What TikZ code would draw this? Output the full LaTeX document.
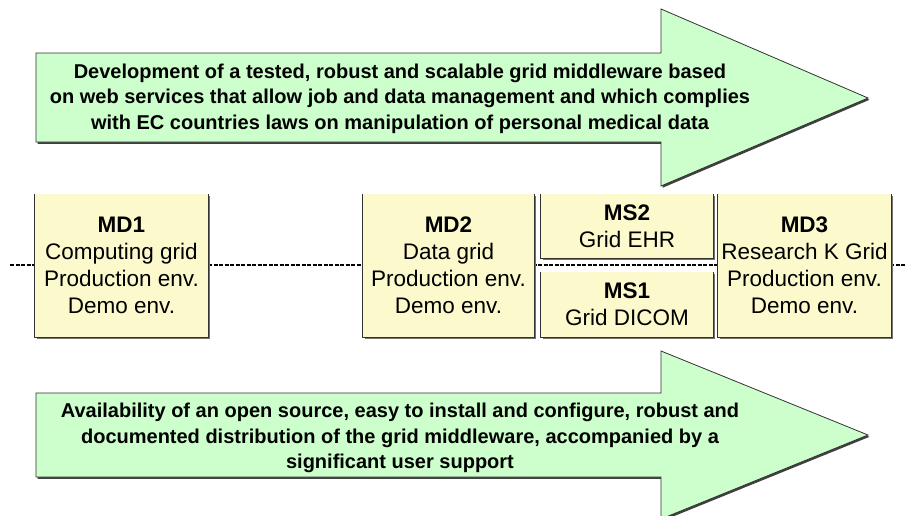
\documentclass[tikz,border=0pt]{standalone}
\usepackage{fontspec}
\setmainfont{Liberation Sans}
\usetikzlibrary{shadows}
\definecolor{boxfill}{RGB}{252,250,204}
\definecolor{arrowfill}{RGB}{204,255,204}
\definecolor{edgecol}{RGB}{50,50,50}
\tikzset{
  mbox/.style={draw=none, fill=boxfill, inner sep=0pt, align=center,
    font=\fontsize{22.5}{27}\selectfont,
    drop shadow={shadow xshift=2pt, shadow yshift=-2pt, fill=black!55, opacity=1}},
  boxedge/.style={draw=edgecol, line width=1pt},
  bigarrow/.style={fill=arrowfill, draw=edgecol, line width=0.8pt,
    drop shadow={shadow xshift=1.5pt, shadow yshift=-1.8pt, fill=black!75, opacity=1}},
  arrowtext/.style={inner sep=0pt, align=center,
    font=\fontsize{20}{25.5}\selectfont\bfseries},
  timeline/.style={draw=black, line width=1.6pt, dash pattern=on 4pt off 1.5pt}
}
\begin{document}
\begin{tikzpicture}[x=1pt,y=-1pt]
\useasboundingbox (0,0) rectangle (906,515);
\fill[white] (0,0) rectangle (906,515);
\clip (0,0) rectangle (906,515);

% timeline
\coordinate (tl) at (10,265);
\coordinate (tr) at (906,265);
\draw[timeline] (tl) -- (tr);

% top arrow
\path[bigarrow] (36,53) -- (661,53) -- (661,9) -- (868,98) -- (661,186) -- (661,142) -- (36,142) -- cycle;
\node[arrowtext] (goal1) at (400,98.5) {Development of a tested, robust and scalable grid middleware based\\on web services that allow job and data management and which complies\\with EC countries laws on manipulation of personal medical data};

% bottom arrow
\path[bigarrow] (36,393) -- (661,393) -- (661,351) -- (868,435) -- (661,519) -- (661,477) -- (36,477) -- cycle;
\node[arrowtext] (goal2) at (400,438) {Availability of an open source, easy to install and configure, robust and\\documented distribution of the grid middleware, accompanied by a\\significant user support};

% milestone boxes
\node[mbox, minimum width=173pt, minimum height=143pt] (md1) at (121.5,265.5) {\textbf{MD1}\\Computing grid\\Production env.\\Demo env.};
\node[mbox, minimum width=171pt, minimum height=143pt] (md2) at (448.5,265.5) {\textbf{MD2}\\Data grid\\Production env.\\Demo env.};
\node[mbox, minimum width=172pt, minimum height=64pt] (ms2) at (627,226) {\textbf{MS2}\\Grid EHR};
\node[mbox, minimum width=172pt, minimum height=65pt] (ms1) at (627,304.5) {\textbf{MS1}\\Grid DICOM};
\node[mbox, minimum width=173pt, minimum height=143pt] (md3) at (804.5,265.5) {\textbf{MD3}\\Research K Grid\\Production env.\\Demo env.};

\foreach \n in {md1,md2,ms2,ms1,md3}
  \draw[boxedge] (\n.north west) -- (\n.south west) -- (\n.south east) -- (\n.north east);
\end{tikzpicture}
\end{document}
